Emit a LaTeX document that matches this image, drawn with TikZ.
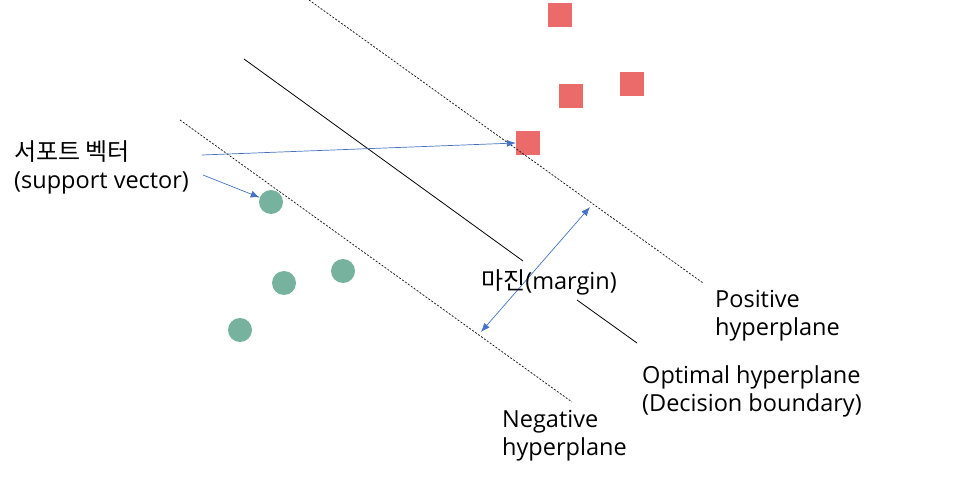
\documentclass[tikz,border=0pt]{standalone}
\usepackage{fontspec}
\setmainfont{Open Sans}
\newfontfamily\kr{Noto Sans CJK KR}
\usetikzlibrary{arrows.meta}
\definecolor{sqred}{RGB}{235,107,107}
\definecolor{dotgreen}{RGB}{118,178,158}
\definecolor{arrblue}{RGB}{68,114,196}
\begin{document}
\begin{tikzpicture}[x=1pt,y=-1pt,
  redsq/.style={fill=sqred,draw=none,minimum size=24pt,inner sep=0pt},
  greendot/.style={circle,fill=dotgreen,draw=none,minimum size=24pt,inner sep=0pt},
  solidline/.style={draw=black,line width=0.8pt},
  dashline/.style={draw=black!90,line width=0.75pt,dash pattern=on 2pt off 1.6pt},
  bluearrow/.style={draw=arrblue,line width=0.7pt,-{Latex[length=9pt,width=7pt]}},
  bothblue/.style={draw=arrblue,line width=0.7pt,{Latex[length=9pt,width=7pt]}-{Latex[length=9pt,width=7pt]}},
  lbl/.style={font=\fontsize{23.5}{28}\selectfont,inner sep=0pt,align=left,anchor=west}
]
\useasboundingbox (0,0) rectangle (974,478);
% points
\node[redsq] (r1) at (560,15) {};
\node[redsq] (r2) at (571,96) {};
\node[redsq] (r3) at (632,84) {};
\node[redsq] (r4) at (528,143) {};
\node[greendot] (g1) at (271,202) {};
\node[greendot] (g2) at (284,283) {};
\node[greendot] (g3) at (343,271) {};
\node[greendot] (g4) at (240,330) {};
% hyperplanes
\coordinate (p1) at (309,0);
\coordinate (p2) at (703,283);
\coordinate (o1) at (244,59);
\coordinate (o2) at (523,261);
\coordinate (o3) at (577,300);
\coordinate (o4) at (637,343);
\coordinate (n1) at (180,120);
\coordinate (n2) at (572,402);
\draw[dashline] (p1) -- (p2);
\draw[dashline] (n1) -- (n2);
\draw[solidline] (o1) -- (o2);
\draw[solidline] (o3) -- (o4);
% margin arrow
\coordinate (m1) at (590,207);
\coordinate (m2) at (481,332);
\draw[bothblue] (m1) -- (m2);
% labels
\node[lbl] (sv) at (14,167) {{\kr\fontsize{24}{28}\selectfont 서포트 벡터}\\(support vector)};
\node[lbl] (mg) at (481,282) {{\kr\fontsize{24}{28}\selectfont 마진}(margin)};
\node[lbl] (ph) at (715,316) {Positive\\hyperplane};
\node[lbl] (oh) at (642,391) {Optimal hyperplane\\(Decision boundary)};
\node[lbl] (nh) at (502,436) {Negative\\hyperplane};
% support vector arrows
\coordinate (s1) at (202,155);
\coordinate (s2) at (203,175);
\draw[bluearrow] (s1) -- (r4.west);
\draw[bluearrow] (s2) -- (g1);
\end{tikzpicture}
\end{document}
